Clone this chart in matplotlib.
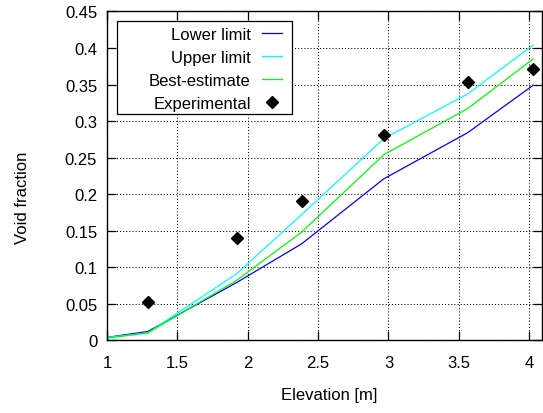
import matplotlib
matplotlib.use("Agg")
import matplotlib.pyplot as plt
from matplotlib.patches import Rectangle

plt.rcParams['font.family'] = ['Liberation Sans', 'DejaVu Sans']

# elevation of the calculation nodes / measurement stations [m]
elevation = [1.0, 1.289, 1.921, 2.383, 2.967, 3.562, 4.028]
lower_limit = [0.004, 0.012, 0.079, 0.132, 0.221, 0.284, 0.349]
upper_limit = [0.004, 0.010, 0.091, 0.172, 0.276, 0.337, 0.404]
best_estimate = [0.003, 0.010, 0.082, 0.148, 0.254, 0.317, 0.385]

exp_elevation = [1.289, 1.921, 2.383, 2.967, 3.562, 4.028]
exp_void = [0.053, 0.140, 0.191, 0.281, 0.354, 0.371]

xticks = [1, 1.5, 2, 2.5, 3, 3.5, 4]
xticklabels = ['1', '1.5', '2', '2.5', '3', '3.5', '4']
yticks = [0, 0.05, 0.1, 0.15, 0.2, 0.25, 0.3, 0.35, 0.4, 0.45]
yticklabels = ['0', '0.05', '0.1', '0.15', '0.2', '0.25', '0.3', '0.35', '0.4', '0.45']

fs = 12

fig = plt.figure(figsize=(5.43, 4.14), dpi=100)
ax = fig.add_axes([0.197, 0.1756, 0.801, 0.7944])

ax.plot(elevation, lower_limit, color='#0000ff', lw=0.9, label='Lower limit')
ax.plot(elevation, upper_limit, color='#00ffff', lw=0.9, label='Upper limit')
ax.plot(elevation, best_estimate, color='#00ff00', lw=0.9, label='Best-estimate')
ax.plot(exp_elevation, exp_void, 'D', color='black', ms=6.6, ls='none',
        label='Experimental')

ax.set_xlim(1, 4.09)
ax.set_ylim(0, 0.45)
ax.set_xticks(xticks)
ax.set_xticklabels(xticklabels)
ax.set_yticks(yticks)
ax.set_yticklabels(yticklabels)

ax.grid(True, color='black', linestyle=(0, (1, 2)), linewidth=0.75)
ax.set_axisbelow(True)
ax.tick_params(direction='in', length=6.2, width=0.9, top=True, right=True,
               labelsize=fs, colors='black')
ax.tick_params(axis='y', pad=7)
ax.tick_params(axis='x', pad=10.4)
for s in ax.spines.values():
    s.set_linewidth(1.0)

ax.set_xlabel('Elevation [m]', fontsize=fs)
ax.set_ylabel('Void fraction', fontsize=fs)
ax.xaxis.set_label_coords(0.5115, -0.1435)
ax.yaxis.set_label_coords(-0.176, 0.435)

# legend frame drawn separately so it can be wider than the entries
ax.add_patch(Rectangle((0.023, 0.6877), 0.402, 0.2837, transform=ax.transAxes,
                       facecolor='white', edgecolor='black', lw=0.9,
                       zorder=4.5, clip_on=False))
leg = ax.legend(loc='upper right', bbox_to_anchor=(0.402, 0.954), borderaxespad=0,
                markerfirst=False, fontsize=fs, handlelength=1.2,
                handletextpad=0.66, labelspacing=0.49, borderpad=0,
                frameon=False)

fig.savefig('out.png', dpi=100)
